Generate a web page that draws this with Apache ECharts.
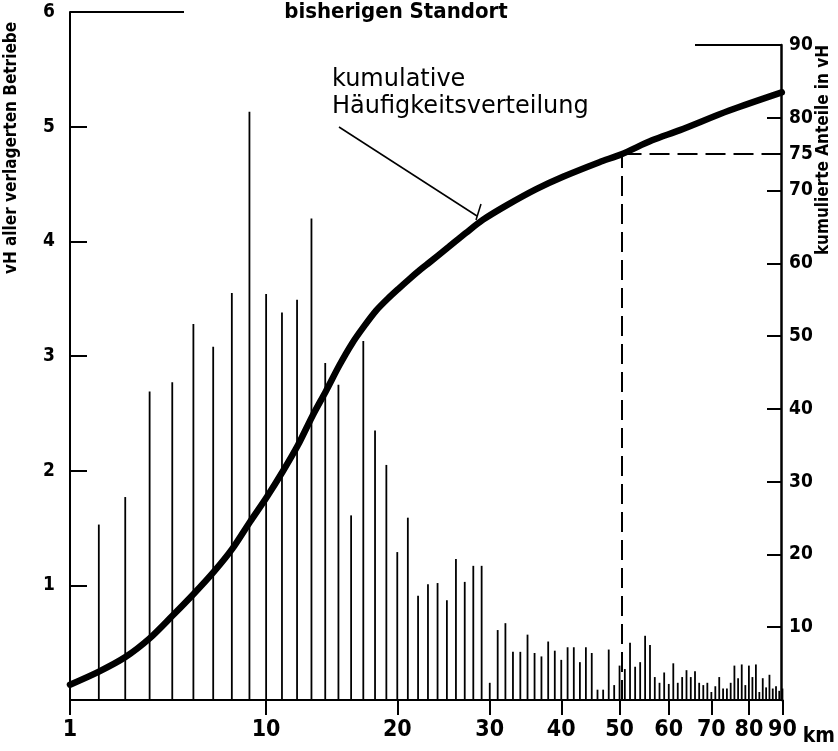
<!DOCTYPE html>
<html>
<head>
<meta charset="utf-8">
<script src="https://cdn.jsdelivr.net/npm/echarts@6/dist/echarts.min.js"></script>
<style>
html,body{margin:0;padding:0;background:#fff;}
#chart{width:838px;height:751px;}
</style>
</head>
<body>
<div id="chart"></div>
<script>
// ---- data ----
const barKm = [2,3,4,5,6,7,8,9,10,11,12,13,14,15,16,17,18,19,20,21,22,23,24,25,26,27,28,29,30,
  31,32,33,34,35,36,37,38,39,40,41,42,43,44,45,46,47,48,49,50,51,52,53,54,55,56,57,58,59,60,
  61,62,63,64,65,66,67,68,69,70,71,72,73,74,75,76,77,78,79,80,81,82,83,84,85,86,87,88,89,90];
const barPct = [1.53,1.77,2.69,2.77,3.28,3.08,3.55,5.13,3.54,3.38,3.49,4.20,2.94,2.75,1.61,3.13,2.35,2.05,1.29,1.59,0.91,1.01,1.02,0.87,1.23,1.03,1.17,1.17,0.15,
  0.61,0.67,0.42,0.42,0.57,0.41,0.38,0.51,0.43,0.35,0.46,0.46,0.33,0.46,0.41,0.09,0.09,0.44,0.13,0.30,0.27,0.50,0.29,0.33,0.56,0.48,0.20,0.15,0.24,0.14,
  0.32,0.15,0.20,0.26,0.20,0.25,0.15,0.13,0.15,0.07,0.12,0.20,0.10,0.10,0.15,0.30,0.19,0.31,0.13,0.30,0.20,0.31,0.07,0.19,0.11,0.22,0.10,0.12,0.08,0.10];
const cumKm  = [1,2,3,4,5,6,7,8,9,10,11,12,13,14,15,16,17,18,19,20,21,22,23,25,27,29,32,36,40,46,50,56,62,74,89];
const cumPct = [2.1,3.9,5.9,8.5,11.6,14.6,17.6,20.8,24.5,27.9,31.4,35.0,39.0,42.5,46.0,49.0,51.4,53.5,55.1,56.5,57.8,59.0,60.1,62.2,64.2,66.0,68.0,70.2,71.9,73.9,75.0,76.9,78.3,81.0,83.5];
const xTickKm = [1,10,20,30,40,50,60,70,80,90];
const leftTicks = [1,2,3,4,5,6];
const rightTicks = [10,20,30,40,50,60,70,75,80,90];
const REF_KM = 50, REF_PCT = 75;
const title = 'bisherigen Standort';
const leftName = 'vH aller verlagerten Betriebe';
const rightName = 'kumulierte Anteile in vH';
const annot = ['kumulative', 'Häufigkeitsverteilung'];

// distance scale of the original: log(km + 9.5)
const OFFSET = 9.5;
const tx = km => Math.log10(km + OFFSET);
const fromT = v => Math.round(Math.pow(10, v) - OFFSET);

const NARROW = '"Liberation Sans Narrow", "DejaVu Sans Condensed", sans-serif';
const SANS = '"DejaVu Sans", sans-serif';

const chart = echarts.init(document.getElementById('chart'), null, {renderer: 'canvas'});
const xCommon = {
  type: 'value', min: tx(1), max: tx(90), splitLine: {show: false}
};
chart.setOption({
  animation: false,
  backgroundColor: '#fff',
  title: {
    text: title, left: 391, top: -4, textAlign: 'center',
    textStyle: {fontFamily: NARROW, fontWeight: 'bold', fontSize: 22, color: '#000'}
  },
  grid: [
    {left: 70, right: 53, top: 12, bottom: 51},
    {left: 70, right: 53, top: 45, bottom: 51}
  ],
  xAxis: [
    Object.assign({}, xCommon, {
      gridIndex: 0,
      axisLine: {show: true, lineStyle: {color: '#000', width: 2}},
      axisTick: {show: true, inside: false, length: 15, lineStyle: {color: '#000', width: 2},
                 customValues: xTickKm.map(tx)},
      axisLabel: {show: true, margin: 19, customValues: xTickKm.map(tx),
                  formatter: v => String(fromT(v)),
                  fontFamily: NARROW, fontWeight: 'bold', fontSize: 23, color: '#000'},
      name: 'km', nameLocation: 'end', nameGap: 6,
      nameTextStyle: {fontFamily: NARROW, fontWeight: 'bold', fontSize: 21, color: '#000',
                      verticalAlign: 'top', padding: [26, 0, 0, 0]}
    }),
    Object.assign({}, xCommon, {
      gridIndex: 1, show: false
    })
  ],
  yAxis: [
    {
      type: 'value', gridIndex: 0, min: 0, max: 6, interval: 1,
      splitLine: {show: false},
      axisLine: {show: true, lineStyle: {color: '#000', width: 2}},
      axisTick: {show: true, inside: true, length: 17, lineStyle: {color: '#000', width: 2},
                 customValues: [1,2,3,4,5]},
      axisLabel: {margin: 15, customValues: leftTicks,
                  fontFamily: NARROW, fontWeight: 'bold', fontSize: 19, color: '#000'}
    },
    {
      type: 'value', gridIndex: 1, min: 0, max: 90, position: 'right', offset: -4,
      splitLine: {show: false},
      axisLine: {show: true, lineStyle: {color: '#000', width: 2.5}},
      axisTick: {show: true, inside: true, length: 14, lineStyle: {color: '#000', width: 2},
                 customValues: rightTicks},
      axisLabel: {margin: 8, customValues: rightTicks,
                  fontFamily: NARROW, fontWeight: 'bold', fontSize: 19, color: '#000'}
    }
  ],
  series: [
    {
      type: 'bar', xAxisIndex: 0, yAxisIndex: 0,
      data: barKm.map((k, i) => [tx(k), barPct[i]]),
      barWidth: 1.8, itemStyle: {color: '#000'}, silent: true
    },
    {
      type: 'line', xAxisIndex: 1, yAxisIndex: 1,
      data: cumKm.map((k, i) => [tx(k), cumPct[i]]),
      smooth: 0.3, symbol: 'none',
      lineStyle: {color: '#000', width: 6.5, cap: 'round'},
      silent: true,
      markLine: {
        silent: true, symbol: 'none', label: {show: false},
        lineStyle: {color: '#000', width: 2, type: [20, 8]},
        data: [
          [{coord: [tx(REF_KM), 0]}, {coord: [tx(REF_KM), REF_PCT]}],
          [{coord: [tx(REF_KM), REF_PCT]}, {coord: [tx(90), REF_PCT]}]
        ]
      }
    }
  ],
  graphic: [
    {type: 'line', shape: {x1: 70, y1: 12, x2: 184, y2: 12}, style: {stroke: '#000', lineWidth: 2}},
    {type: 'line', shape: {x1: 695, y1: 45, x2: 782, y2: 45}, style: {stroke: '#000', lineWidth: 2}},
    {type: 'text', x: 332, y: 68, style: {text: annot[0], font: '24px ' + SANS, fill: '#000'}},
    {type: 'text', x: 332, y: 95, style: {text: annot[1], font: '24px ' + SANS, fill: '#000'}},
    {type: 'line', shape: {x1: 339, y1: 127, x2: 477, y2: 216}, style: {stroke: '#000', lineWidth: 1.5}},
    {type: 'line', shape: {x1: 476, y1: 220, x2: 481, y2: 204}, style: {stroke: '#000', lineWidth: 1.5}},
    {type: 'text', x: 12, y: 148, rotation: Math.PI / 2,
     style: {text: leftName, font: 'bold 17px ' + NARROW, fill: '#000', align: 'center', verticalAlign: 'middle'}},
    {type: 'text', x: 824, y: 150, rotation: Math.PI / 2,
     style: {text: rightName, font: 'bold 17px ' + NARROW, fill: '#000', align: 'center', verticalAlign: 'middle'}}
  ]
});
</script>
</body>
</html>
